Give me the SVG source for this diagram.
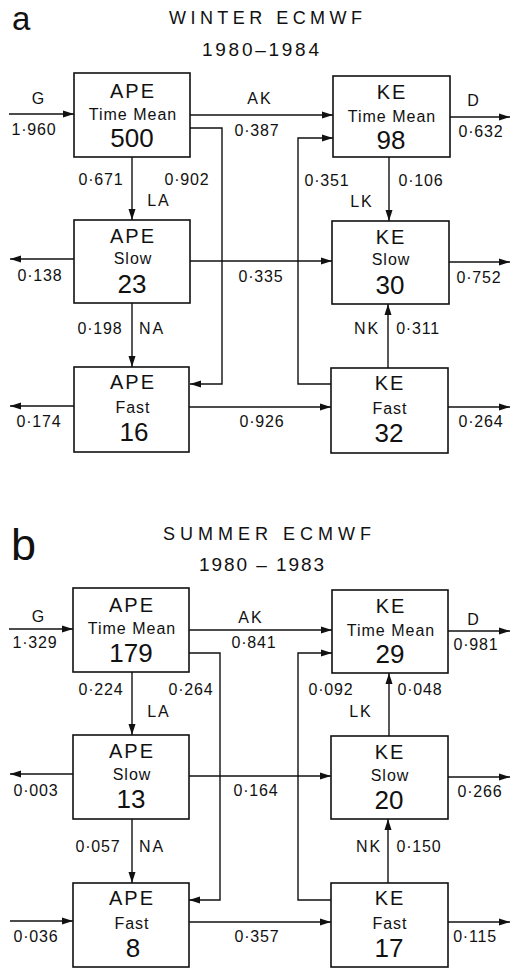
<svg xmlns="http://www.w3.org/2000/svg" width="515" height="969" viewBox="0 0 515 969">
<defs>
<marker id="ah" markerUnits="userSpaceOnUse" markerWidth="12" markerHeight="8" refX="11" refY="4" orient="auto">
<path d="M0,0.5 L11,4 L0,7.5 z" fill="#111"/>
</marker>
<style>
text{font-family:"Liberation Sans",Arial,sans-serif;fill:#111}
.box{fill:#fff;stroke:#111;stroke-width:1.6}
.t{font-size:20px;letter-spacing:2px;text-anchor:middle}
.s{font-size:16px;letter-spacing:1px;text-anchor:middle}
.v{font-size:26px;text-anchor:middle}
.n{font-size:16px;letter-spacing:0.8px;text-anchor:middle}
.f{font-size:16px;letter-spacing:2px;text-anchor:middle}
.title{font-size:18px}
.yr{font-size:19px}
.big{font-size:33px}
#connectors path{fill:none;stroke:#111;stroke-width:1.4;marker-end:url(#ah)}
</style>
</defs>
<rect width="515" height="969" fill="#fff"/>

<!-- Panel a -->
<text class="big" x="12" y="30">a</text>
<text class="title" x="169" y="24" textLength="193" lengthAdjust="spacing">WINTER ECMWF</text>
<text class="yr" x="202" y="56" textLength="117" lengthAdjust="spacing">1980–1984</text>

<g id="connectors">
<path d="M9,114 H74"/>
<path d="M190,115 H333"/>
<path d="M190,128 H222 V384 H190"/>
<path d="M132,157 V220"/>
<path d="M450,117 H510"/>
<path d="M332,384 H298 V138 H333"/>
<path d="M389,157 V221"/>
<path d="M74,259 H10"/>
<path d="M190,261 H332"/>
<path d="M449,262 H510"/>
<path d="M132,303 V367"/>
<path d="M388,368 V304"/>
<path d="M74,406 H10"/>
<path d="M189,407 H331"/>
<path d="M448,407 H510"/>

<path d="M9,629 H73"/>
<path d="M189,630 H332"/>
<path d="M189,653 H220 V900 H189"/>
<path d="M132,672 V735"/>
<path d="M448,631 H510"/>
<path d="M331,900 H298 V653 H332"/>
<path d="M389,736 V673"/>
<path d="M73,774 H10"/>
<path d="M189,776 H331"/>
<path d="M448,777 H510"/>
<path d="M132,819 V883"/>
<path d="M388,883 V819"/>
<path d="M10,921 H73"/>
<path d="M189,922 H331"/>
<path d="M448,922 H510"/>
</g>

<g id="a-ape-tm"><rect class="box" x="74" y="73" width="116" height="84"/>
<text class="t" x="133" y="98">APE</text><text class="s" x="133" y="120">Time Mean</text><text class="v" x="132" y="147">500</text></g>
<g id="a-ke-tm"><rect class="box" x="333" y="76" width="117" height="81"/>
<text class="t" x="392" y="99">KE</text><text class="s" x="392" y="122">Time Mean</text><text class="v" x="391" y="149">98</text></g>
<g id="a-ape-slow"><rect class="box" x="74" y="220" width="116" height="83"/>
<text class="t" x="133" y="243">APE</text><text class="s" x="133" y="264">Slow</text><text class="v" x="132" y="293">23</text></g>
<g id="a-ke-slow"><rect class="box" x="332" y="221" width="117" height="83"/>
<text class="t" x="391" y="244">KE</text><text class="s" x="391" y="265">Slow</text><text class="v" x="390" y="294">30</text></g>
<g id="a-ape-fast"><rect class="box" x="74" y="367" width="115" height="85"/>
<text class="t" x="133" y="389">APE</text><text class="s" x="133" y="413">Fast</text><text class="v" x="134" y="441">16</text></g>
<g id="a-ke-fast"><rect class="box" x="331" y="368" width="117" height="85"/>
<text class="t" x="390" y="390">KE</text><text class="s" x="390" y="414">Fast</text><text class="v" x="389" y="442">32</text></g>

<g id="a-labels">
<text class="f" x="39" y="104">G</text>
<text class="n" x="34" y="135">1·960</text>
<text class="f" x="260" y="104">AK</text>
<text class="n" x="257" y="136">0·387</text>
<text class="f" x="474" y="106">D</text>
<text class="n" x="481" y="137">0·632</text>
<text class="n" x="101" y="185">0·671</text>
<text class="n" x="187" y="185">0·902</text>
<text class="f" x="159" y="206">LA</text>
<text class="n" x="327" y="186">0·351</text>
<text class="n" x="421" y="186">0·106</text>
<text class="f" x="362" y="207">LK</text>
<text class="n" x="40" y="281">0·138</text>
<text class="n" x="261" y="282">0·335</text>
<text class="n" x="479" y="283">0·752</text>
<text class="n" x="100" y="334">0·198</text>
<text class="f" x="152" y="334">NA</text>
<text class="f" x="367" y="334">NK</text>
<text class="n" x="418" y="334">0·311</text>
<text class="n" x="39" y="427">0·174</text>
<text class="n" x="262" y="427">0·926</text>
<text class="n" x="481" y="427">0·264</text>
</g>

<!-- Panel b -->
<text class="big" x="11" y="560" style="font-size:45px">b</text>
<text class="title" x="163" y="540" textLength="208" lengthAdjust="spacing">SUMMER ECMWF</text>
<text class="yr" x="199" y="571" textLength="125" lengthAdjust="spacing">1980 – 1983</text>

<g id="b-ape-tm"><rect class="box" x="73" y="588" width="116" height="84"/>
<text class="t" x="132" y="612">APE</text><text class="s" x="132" y="634">Time Mean</text><text class="v" x="131" y="662">179</text></g>
<g id="b-ke-tm"><rect class="box" x="332" y="590" width="116" height="83"/>
<text class="t" x="391" y="613">KE</text><text class="s" x="391" y="636">Time Mean</text><text class="v" x="390" y="663">29</text></g>
<g id="b-ape-slow"><rect class="box" x="73" y="735" width="116" height="84"/>
<text class="t" x="132" y="758">APE</text><text class="s" x="132" y="780">Slow</text><text class="v" x="131" y="808">13</text></g>
<g id="b-ke-slow"><rect class="box" x="331" y="736" width="117" height="83"/>
<text class="t" x="390" y="759">KE</text><text class="s" x="390" y="781">Slow</text><text class="v" x="389" y="809">20</text></g>
<g id="b-ape-fast"><rect class="box" x="73" y="883" width="116" height="84"/>
<text class="t" x="132" y="905">APE</text><text class="s" x="132" y="929">Fast</text><text class="v" x="133" y="957">8</text></g>
<g id="b-ke-fast"><rect class="box" x="331" y="883" width="117" height="84"/>
<text class="t" x="390" y="905">KE</text><text class="s" x="390" y="929">Fast</text><text class="v" x="389" y="957">17</text></g>

<g id="b-labels">
<text class="f" x="39" y="622">G</text>
<text class="n" x="35" y="648">1·329</text>
<text class="f" x="251" y="623">AK</text>
<text class="n" x="254" y="648">0·841</text>
<text class="f" x="474" y="625">D</text>
<text class="n" x="476" y="650">0·981</text>
<text class="n" x="101" y="695">0·224</text>
<text class="n" x="191" y="695">0·264</text>
<text class="f" x="159" y="717">LA</text>
<text class="n" x="331" y="695">0·092</text>
<text class="n" x="420" y="695">0·048</text>
<text class="f" x="361" y="717">LK</text>
<text class="n" x="36" y="796">0·003</text>
<text class="n" x="256" y="796">0·164</text>
<text class="n" x="480" y="797">0·266</text>
<text class="n" x="98" y="852">0·057</text>
<text class="f" x="152" y="852">NA</text>
<text class="f" x="369" y="852">NK</text>
<text class="n" x="419" y="852">0·150</text>
<text class="n" x="36" y="942">0·036</text>
<text class="n" x="257" y="942">0·357</text>
<text class="n" x="475" y="942">0·115</text>
</g>
</svg>
